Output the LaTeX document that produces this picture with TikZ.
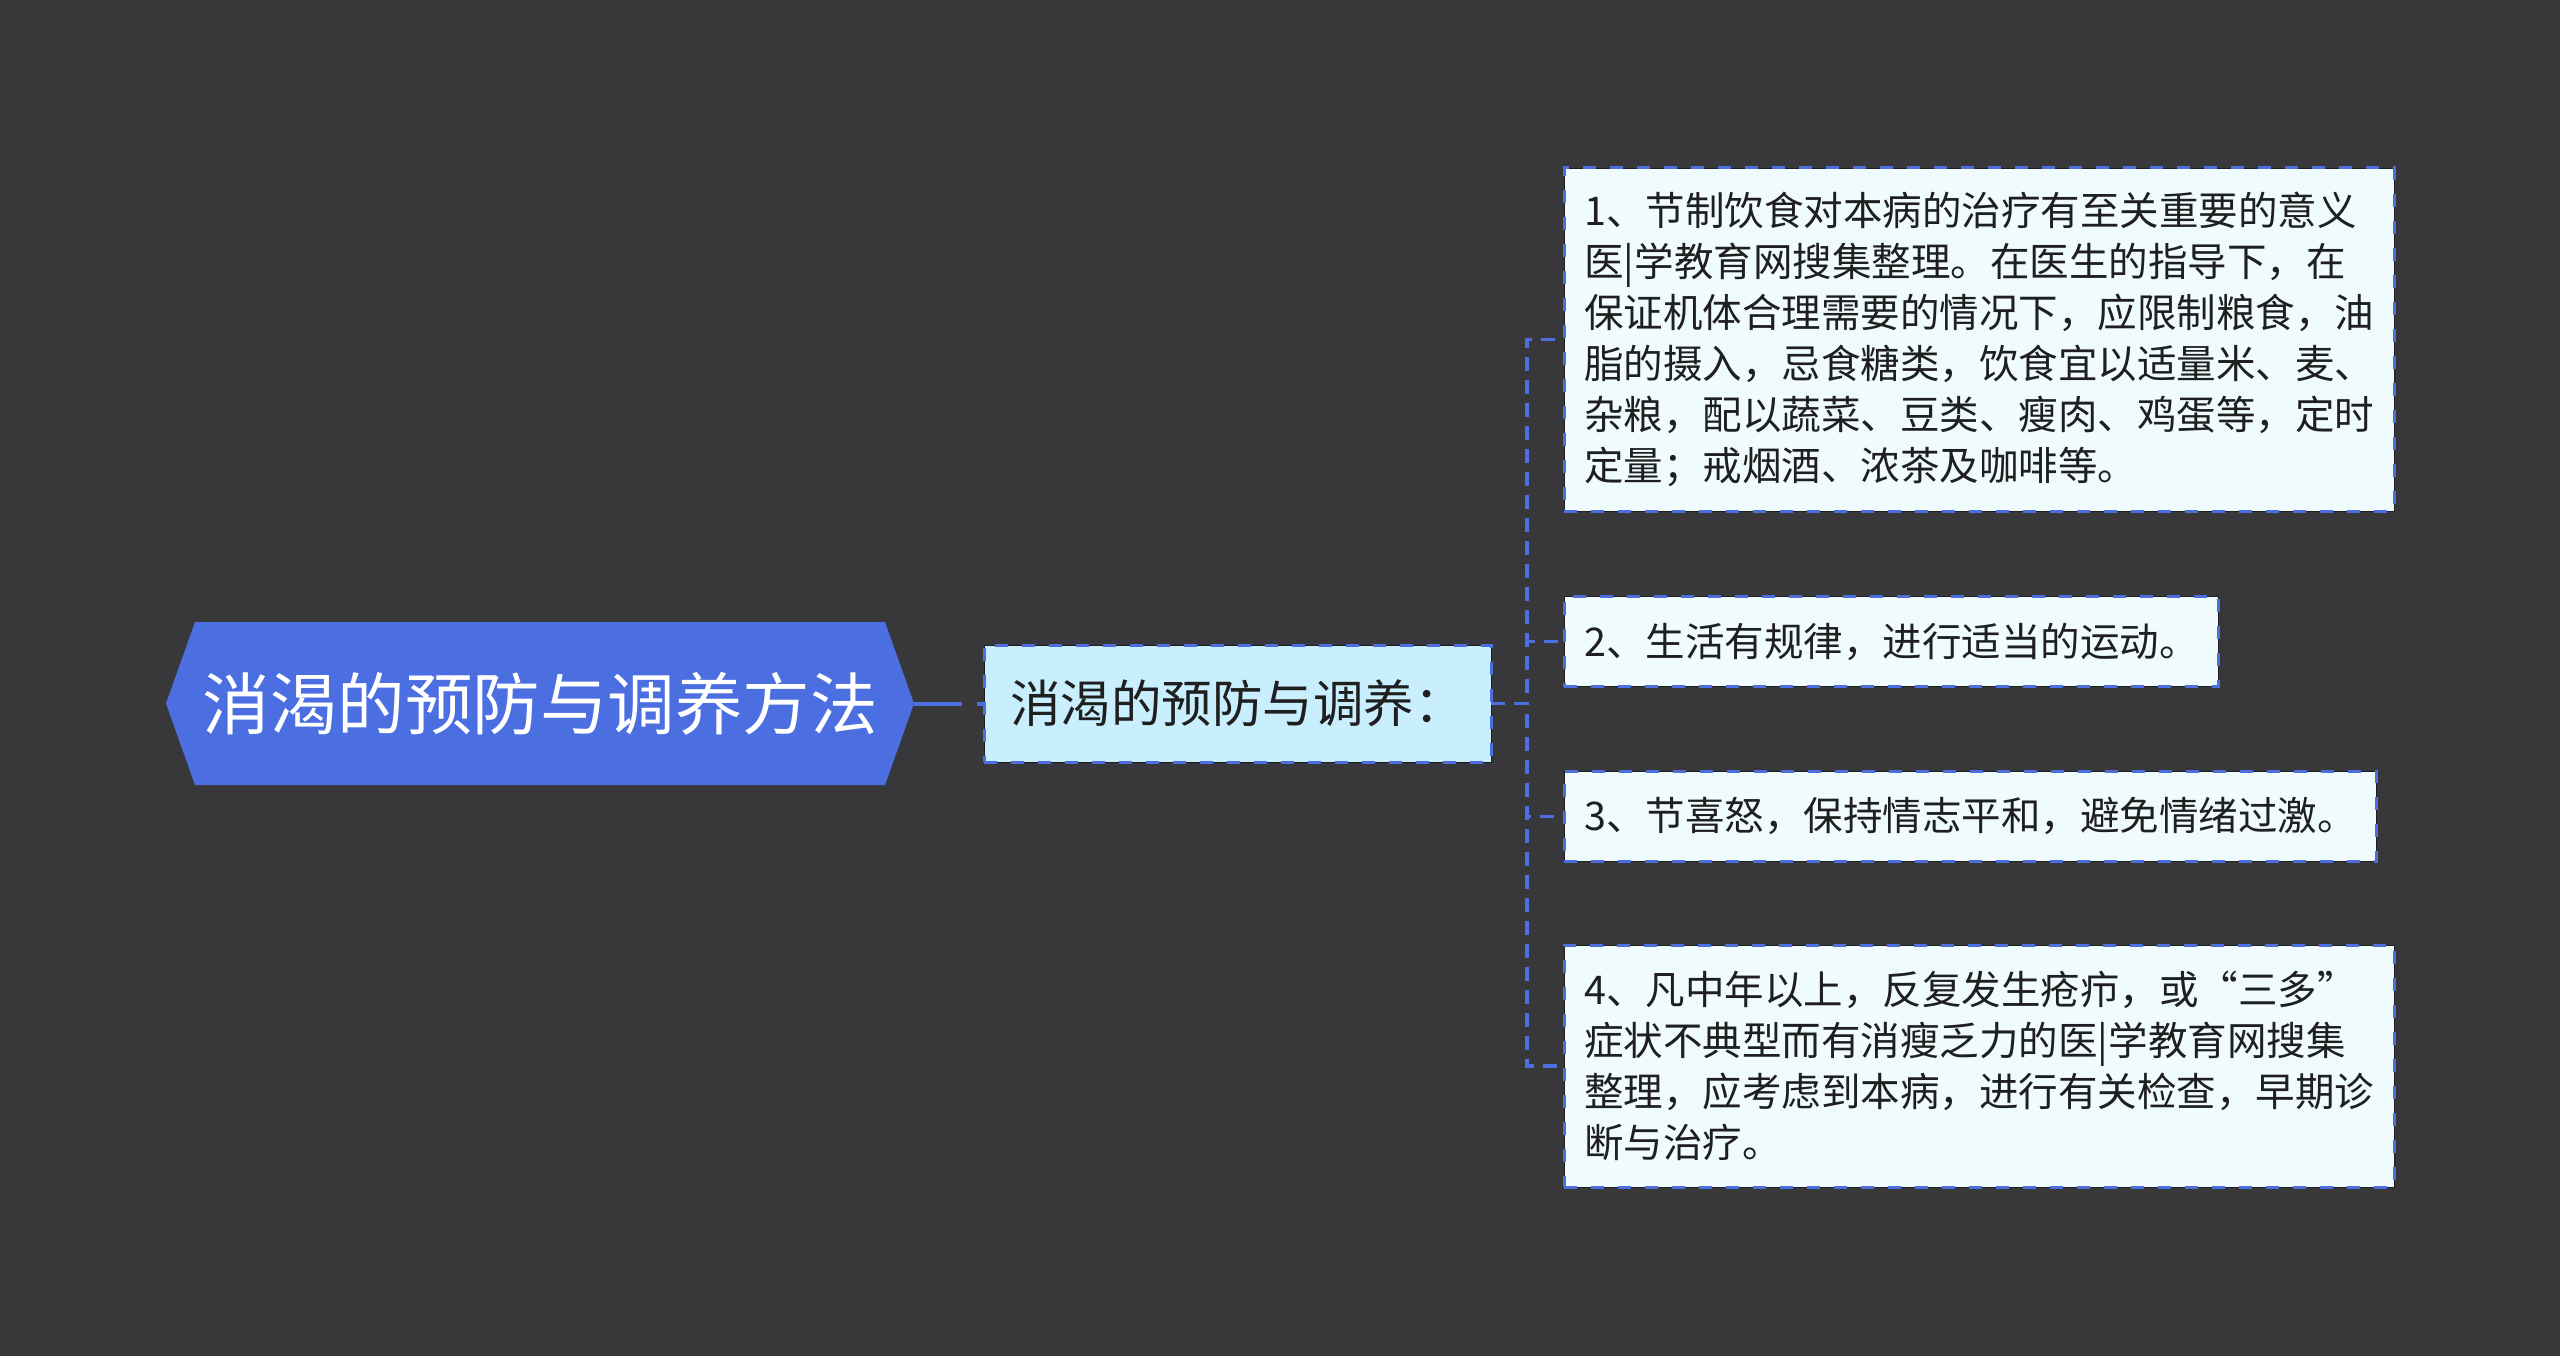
\documentclass[tikz,border=0pt]{standalone}
\usepackage{fontspec}
\setmainfont{Noto Sans CJK SC}
\usetikzlibrary{calc}
\definecolor{bgc}{HTML}{38373A}
\definecolor{blu}{HTML}{4B6FE1}
\definecolor{childfill}{HTML}{C9EEFD}
\definecolor{leaffill}{HTML}{EFFBFD}
\definecolor{txt}{HTML}{1F1F1F}
\definecolor{edgec}{HTML}{1E1E1E}
\tikzset{
 boxbase/.style={draw=edgec, line width=0.8pt, postaction={draw=blu, line width=3pt, dash pattern=on 13pt off 14pt}, text=txt, inner ysep=0pt},
 leafbox/.style={boxbase, fill=leaffill, anchor=west, align=left, inner xsep=20pt, font=\fontsize{39.5}{51}\selectfont},
 childbox/.style={boxbase, fill=childfill, minimum width=507pt, minimum height=117pt, inner xsep=0pt, font=\fontsize{50.5}{60}\selectfont},
 rootbox/.style={text=white, font=\fontsize{67.5}{80}\selectfont, minimum width=748pt, minimum height=163pt, inner sep=0pt},
 conn/.style={draw=blu, line width=3.5pt, dash pattern=on 14pt off 9pt},
 rootconn/.style={draw=blu, line width=4pt, dash pattern=on 48pt off 15pt},
}
\begin{document}
\begin{tikzpicture}[x=1pt,y=-1pt]
\useasboundingbox (0,0) rectangle (2560,1356);
\fill[bgc] (0,0) rectangle (2560,1356);
% root hexagon
\fill[blu] (166,703.5) -- (195,622) -- (885,622) -- (914,703.5) -- (885,785) -- (195,785) -- cycle;
\node[rootbox] (root) at (540,703.5) {消渴的预防与调养方法};
\node[childbox] (child) at (1237.5,703.5) {消渴的预防与调养：};
\node[leafbox, minimum height=343pt] (l1) at (1564,339.5) {1、节制饮食对本病的治疗有至关重要的意义\\医|学教育网搜集整理。在医生的指导下，在\\保证机体合理需要的情况下，应限制粮食，油\\脂的摄入，忌食糖类，饮食宜以适量米、麦、\\杂粮，配以蔬菜、豆类、瘦肉、鸡蛋等，定时\\定量；戒烟酒、浓茶及咖啡等。};
\node[leafbox, minimum height=90pt] (l2) at (1564,641.5) {2、生活有规律，进行适当的运动。};
\node[leafbox, minimum height=90pt] (l3) at (1564,816.3) {3、节喜怒，保持情志平和，避免情绪过激。};
\node[leafbox, minimum height=242pt] (l4) at (1564,1066) {4、凡中年以上，反复发生疮疖，或“三多”\\症状不典型而有消瘦乏力的医|学教育网搜集\\整理，应考虑到本病，进行有关检查，早期诊\\断与治疗。};
\draw[rootconn] (root.east) -- (child.west);
\coordinate (jn) at (1527,703.5);
\foreach \n in {l1,l2,l3,l4} \draw[conn] (child.east) -- (jn) |- (\n.west);
\end{tikzpicture}
\end{document}
